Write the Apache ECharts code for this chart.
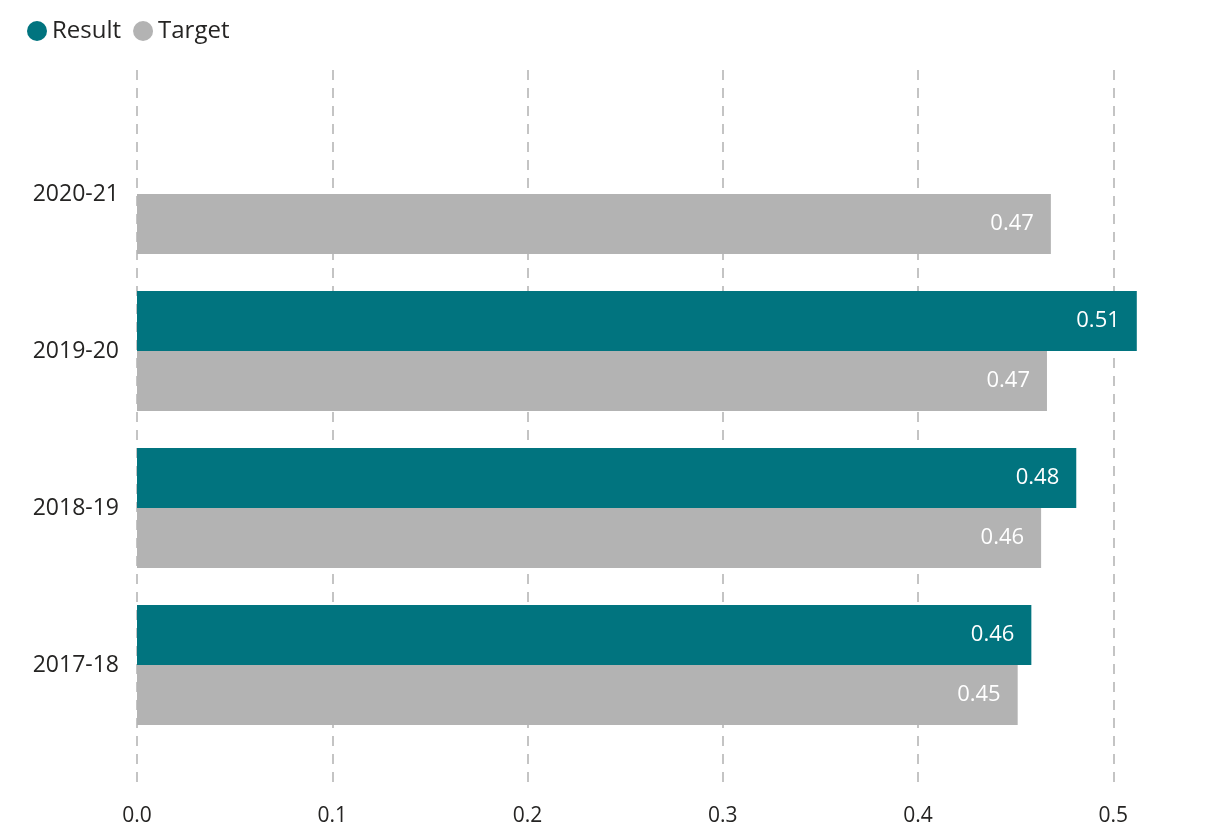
<!DOCTYPE html>
<html>
<head>
<meta charset="utf-8">
<script src="https://cdn.jsdelivr.net/npm/echarts@6/dist/echarts.min.js"></script>
<style>
html,body{margin:0;padding:0;background:#fff;}
#chart{width:1216px;height:836px;}
</style>
</head>
<body>
<div id="chart"></div>
<script>
const categories = ['2020-21', '2019-20', '2018-19', '2017-18'];
const resultValues = [null, 0.512, 0.481, 0.458];
const targetValues = [0.468, 0.466, 0.463, 0.451];
const xTicks = [0, 0.1, 0.2, 0.3, 0.4, 0.5];

const FONT = "'Segoe UI', 'Open Sans', 'Noto Sans', sans-serif";
const chart = echarts.init(document.getElementById('chart'));
const labelStyle = {
  show: true,
  position: 'insideRight',
  distance: 17,
  color: '#ffffff',
  fontFamily: FONT,
  fontSize: 22,
  formatter: p => p.value == null ? '' : p.value.toFixed(2)
};
chart.setOption({
  animation: false,
  backgroundColor: '#ffffff',
  legend: {
    data: ['Result', 'Target'],
    left: 22,
    top: 14,
    icon: 'circle',
    itemWidth: 20,
    itemHeight: 20,
    itemGap: 12,
    textStyle: { fontFamily: FONT, fontSize: 24, color: '#252423' }
  },
  grid: [
    { left: 137, right: 5, top: 115.5, bottom: 92.5 },
    { left: 137, right: 5, top: 70, bottom: 46 }
  ],
  xAxis: [
    {
      gridIndex: 0, type: 'value', min: 0, max: 0.55, interval: 0.1,
      axisLine: { show: false }, axisTick: { show: false },
      axisLabel: { show: false }, splitLine: { show: false }
    },
    {
      gridIndex: 1, type: 'value', min: 0, max: 0.55, interval: 0.1,
      axisLine: { show: false }, axisTick: { show: false },
      axisLabel: {
        showMaxLabel: false, margin: 16,
        fontFamily: FONT, fontSize: 21, color: '#252423',
        formatter: v => xTicks.includes(Math.round(v * 10) / 10) ? v.toFixed(1) : ''
      },
      splitLine: {
        show: true, showMaxLine: false,
        lineStyle: { color: '#c4c4c4', width: 2, type: [10, 8] }
      }
    }
  ],
  yAxis: [
    {
      gridIndex: 0, type: 'category', data: categories, inverse: true,
      axisLine: { show: false }, axisTick: { show: false },
      axisLabel: { margin: 18, fontFamily: FONT, fontSize: 23, color: '#252423', verticalAlign: 'middle', padding: [10, 0, 0, 0] }
    },
    { gridIndex: 1, type: 'value', min: 0, max: 1, show: false }
  ],
  series: [
    {
      name: 'Result', type: 'bar', xAxisIndex: 0, yAxisIndex: 0,
      data: resultValues, barGap: '0%', barCategoryGap: '23.6%',
      itemStyle: { color: '#01747f' }, label: labelStyle
    },
    {
      name: 'Target', type: 'bar', xAxisIndex: 0, yAxisIndex: 0,
      data: targetValues, barGap: '0%', barCategoryGap: '23.6%',
      itemStyle: { color: '#b3b3b3' }, label: labelStyle
    }
  ]
});
</script>
</body>
</html>
